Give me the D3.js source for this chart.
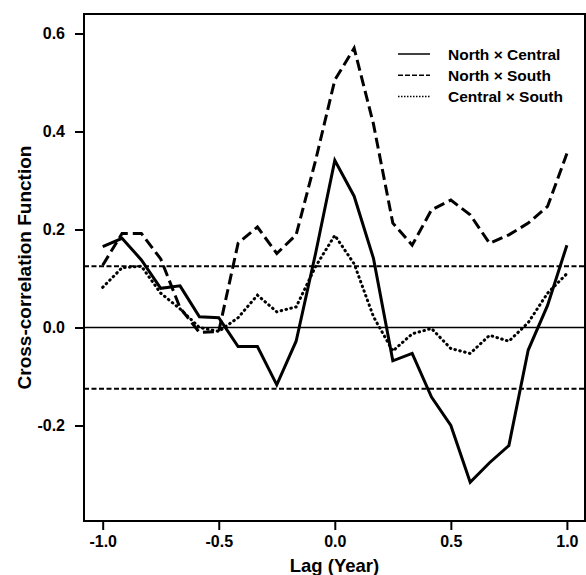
<!DOCTYPE html>
<html>
<head>
<meta charset="utf-8">
<script src="https://cdn.jsdelivr.net/npm/d3@7"></script>
<style>
  body { margin: 0; background: #fff; }
  svg text { font-family: "Liberation Sans", Arial, sans-serif; font-weight: bold; fill: #000; }
</style>
</head>
<body>
<div class="chart"></div>
<script>
// lag in years, one value per month
var lags = [-12, -11, -10, -9, -8, -7, -6, -5, -4, -3, -2, -1, 0, 1, 2, 3, 4, 5, 6, 7, 8, 9, 10, 11, 12].map(function (k) { return k / 12; });

var northCentral = [0.165, 0.182, 0.138, 0.080, 0.085, 0.022, 0.020, -0.039, -0.039, -0.117, -0.028, 0.150,
  0.341, 0.268, 0.141, -0.068, -0.053, -0.142, -0.200, -0.316, -0.276, -0.241, -0.046, 0.045, 0.168];
var northSouth = [0.127, 0.192, 0.192, 0.140, 0.040, -0.010, -0.008, 0.172, 0.205, 0.151, 0.189, 0.340,
  0.505, 0.570, 0.415, 0.213, 0.168, 0.240, 0.260, 0.230, 0.172, 0.189, 0.213, 0.247, 0.355];
var centralSouth = [0.082, 0.122, 0.125, 0.070, 0.038, 0.000, -0.008, 0.020, 0.066, 0.032, 0.042, 0.124,
  0.188, 0.130, 0.022, -0.048, -0.013, -0.002, -0.043, -0.053, -0.016, -0.028, 0.010, 0.070, 0.110];

var seriesNames = ['North \u00d7 Central', 'North \u00d7 South', 'Central \u00d7 South'];
var confLimit = 0.125;

var xTicks = [-1, -0.5, 0, 0.5, 1];
var yTicks = [-0.2, 0, 0.2, 0.4, 0.6];

var width = 586,
    height = 575,
    box = { left: 84, right: 585, top: 14, bottom: 521 };

var svg = d3.select('.chart').append('svg').attr('width', width).attr('height', height);

// scales, data range sits inside the box with some room
var xScale = d3.scaleLinear().domain([-1, 1]).range([102.7, 566.9]);
var yScale = d3.scaleLinear().domain([-0.2, 0.6]).range([425.5, 33.5]);

// plain hyphen for negatives, like the original
var fmt = function (d) { return d.toFixed(1); };

// reference lines: zero and the confidence limits
svg.append('line').attr('x1', box.left).attr('x2', box.right)
  .attr('y1', yScale(0)).attr('y2', yScale(0))
  .attr('stroke', '#000').attr('stroke-width', 1.7);
[confLimit, -confLimit].forEach(function (c) {
  svg.append('line').attr('x1', box.left).attr('x2', box.right)
    .attr('y1', yScale(c)).attr('y2', yScale(c))
    .attr('stroke', '#000').attr('stroke-width', 1.8).attr('stroke-dasharray', '5,2.5');
});

// the three series
var line = d3.line().x(function (d, i) { return xScale(lags[i]); }).y(function (d) { return yScale(d); });
var styles = [
  { data: northCentral, dash: null, cap: 'butt', legendDash: null },
  { data: northSouth, dash: '11,5', cap: 'butt', legendDash: '5,2' },
  { data: centralSouth, dash: '0.6,4.4', cap: 'round', legendDash: '1.5,1.5' }
];
styles.forEach(function (s) {
  svg.append('path').datum(s.data).attr('d', line)
    .attr('fill', 'none').attr('stroke', '#000').attr('stroke-width', 3)
    .attr('stroke-linejoin', 'miter').attr('stroke-linecap', s.cap)
    .attr('stroke-dasharray', s.dash);
});

// frame
svg.append('rect').attr('x', box.left).attr('y', box.top)
  .attr('width', box.right - box.left).attr('height', box.bottom - box.top)
  .attr('fill', 'none').attr('stroke', '#000').attr('stroke-width', 2);

// axes
var xAxis = d3.axisBottom(xScale).tickValues(xTicks).tickFormat(fmt).tickSize(8).tickPadding(6);
var xSVG = svg.append('g').attr('transform', 'translate(0,' + (box.bottom + 1) + ')').call(xAxis);
xSVG.select('.domain').remove();
xSVG.selectAll('line').attr('stroke', '#000').attr('stroke-width', 2);
xSVG.selectAll('text').style('font-size', '16px');

var yAxis = d3.axisLeft(yScale).tickValues(yTicks).tickFormat(fmt).tickSize(8).tickPadding(10);
var ySVG = svg.append('g').attr('transform', 'translate(' + (box.left - 1) + ',0)').call(yAxis);
ySVG.select('.domain').remove();
ySVG.selectAll('line').attr('stroke', '#000').attr('stroke-width', 2);
ySVG.selectAll('text').style('font-size', '16px');

// axis titles
svg.append('text').attr('x', (box.left + box.right) / 2).attr('y', 572)
  .attr('text-anchor', 'middle').style('font-size', '18.5px').text('Lag (Year)');
svg.append('text').attr('transform', 'translate(31,' + ((box.top + box.bottom) / 2) + ') rotate(-90)')
  .attr('text-anchor', 'middle').style('font-size', '19px').text('Cross-correlation Function');

// legend
var legend = svg.append('g');
seriesNames.forEach(function (name, i) {
  var y = 54 + i * 21.3;
  legend.append('line').attr('x1', 398).attr('x2', 430).attr('y1', y).attr('y2', y)
    .attr('stroke', '#000').attr('stroke-width', 1.5)
    .attr('stroke-dasharray', styles[i].legendDash);
  legend.append('text').attr('x', 448).attr('y', y + 5.5)
    .style('font-size', '15.5px').text(name);
});
</script>
</body>
</html>
